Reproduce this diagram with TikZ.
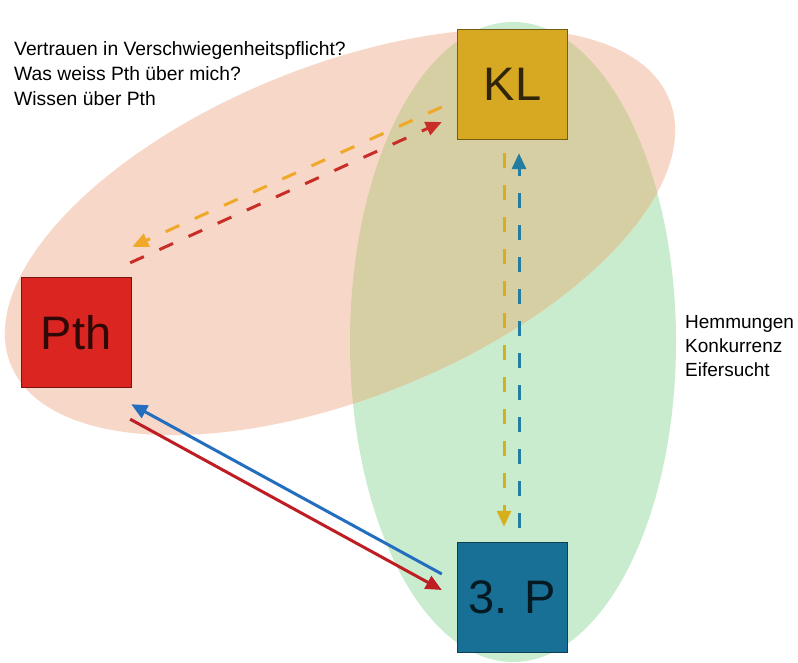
\documentclass[tikz,border=0pt]{standalone}
\usepackage{fontspec}
\setmainfont{Liberation Sans}
\usetikzlibrary{arrows.meta,calc}

\definecolor{salmonfill}{RGB}{247,216,200}
\definecolor{greenfill}{RGB}{202,236,206}
\definecolor{overlapfill}{RGB}{214,207,163}
\definecolor{klfill}{RGB}{215,168,34}
\definecolor{pthfill}{RGB}{219,37,33}
\definecolor{thirdfill}{RGB}{24,112,150}
\definecolor{orangedash}{RGB}{240,168,40}
\definecolor{reddash}{RGB}{200,45,40}
\definecolor{yellowdash}{RGB}{215,175,30}
\definecolor{tealdash}{RGB}{35,125,160}
\definecolor{bluearrow}{RGB}{35,110,190}
\definecolor{redarrow}{RGB}{190,30,35}

\tikzset{
	party/.style={draw=#1!55!black, fill=#1, minimum width=110pt, minimum height=110pt,
		inner sep=0pt, font=\fontsize{47}{47}\selectfont, text=#1!22!black},
	dashline/.style={line width=3pt, dash pattern=on 15pt off 17pt},
	solidline/.style={line width=3pt},
	tip/.style={-{Triangle[length=16pt,width=14pt]}}
}

\begin{document}
\begin{tikzpicture}[x=1pt,y=-1pt]
	\useasboundingbox (0,0) rectangle (798,663);
	% circles
	\fill[greenfill] (513,342) ellipse [x radius=163pt, y radius=320pt];
	\fill[salmonfill, rotate around={21.9:(340,232)}] (340,232) ellipse [x radius=355pt, y radius=166pt];
	\begin{scope}
		\clip (513,342) ellipse [x radius=163pt, y radius=320pt];
		\fill[overlapfill, rotate around={21.9:(340,232)}] (340,232) ellipse [x radius=355pt, y radius=166pt];
	\end{scope}

	% persons
	\node[party=klfill] (KL) at (512.5,84.5) {KL};
	\node[party=pthfill] (Pth) at (76,332.5) {Pth};
	\node[party=thirdfill] (thirdP) at (512,597.5) {3. P};

	% relations
	\draw[dashline, orangedash, tip] ($(KL.west)+(-15.5,22.5)$) -- ($(Pth.north east)+(1,-30.5)$);
	\draw[dashline, reddash, tip] ($(Pth.north east)+(-1,-14.5)$) -- ($(KL.west)+(-15.5,37.5)$);
	\draw[dashline, yellowdash, tip] ($(KL.south)+(-8.5,13.5)$) -- ($(thirdP.north)+(-8,-15.5)$);
	\draw[dashline, tealdash, tip] ($(thirdP.north)+(7,-14.5)$) -- ($(KL.south)+(6.5,13.5)$);
	\draw[solidline, bluearrow, tip] ($(thirdP.west)+(-15,-23.5)$) -- ($(Pth.south east)+(0,16.5)$);
	\draw[solidline, redarrow, tip] ($(Pth.south east)+(-1,31.5)$) -- ($(thirdP.west)+(-15,-7.5)$);

	% questions
	\node[anchor=north west, align=left, inner sep=0pt, font=\fontsize{19.3}{25}\selectfont] (doubts) at (14,41)
		{Vertrauen in Verschwiegenheitspflicht?\\Was weiss Pth über mich?\\Wissen über Pth};
	\node[anchor=north west, align=left, inner sep=0pt, font=\fontsize{19}{24}\selectfont] (feelings) at (685,315)
		{Hemmungen\\Konkurrenz\\Eifersucht};
\end{tikzpicture}
\end{document}
